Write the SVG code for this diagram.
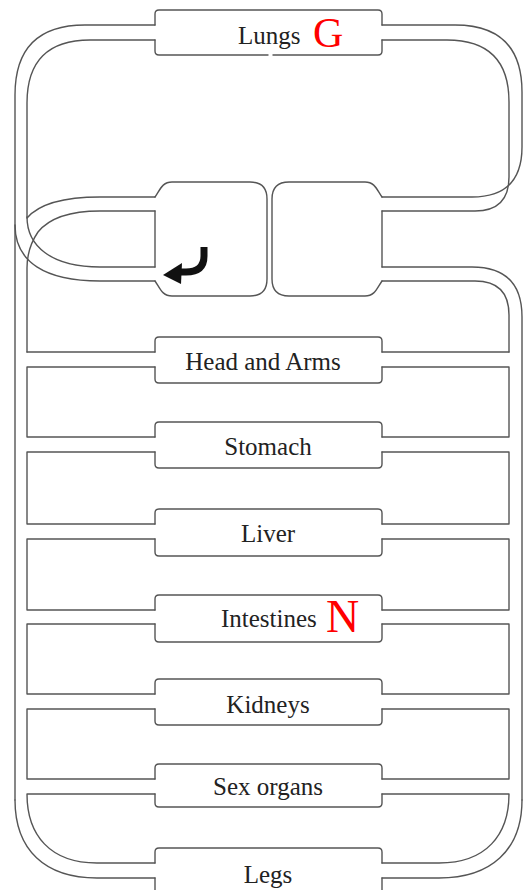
<svg xmlns="http://www.w3.org/2000/svg" width="526" height="890" viewBox="0 0 526 890">
<style>
.w{fill:none;stroke:#555;stroke-width:1.4;stroke-linecap:round;stroke-linejoin:round}
.t{font-family:"Liberation Serif","DejaVu Serif",serif;font-size:25px;fill:#222}
.r{font-family:"Liberation Serif","DejaVu Serif",serif;fill:#f00}
</style>
<rect width="526" height="890" fill="#fff"/>
<g id="connectors" class="w">
<!-- lungs to left heart (pulmonary veins) -->
<path d="M155,25 L85,25 Q15,25 15,95 L15,800"/>
<path d="M155,40 L90,40 Q27,40 27,103 L27,217"/>
<path d="M27,217 C27,245 50,267 100,267 L155,267"/>
<path d="M15,225 C15,262 45,281 100,281 L155,281"/>
<!-- aorta from left heart -->
<path d="M155,197 L100,197 Q45,197 27,218"/>
<path d="M155,211 L100,211 Q55,211 38,232 Q27,248 27,268 L27,352"/>
<!-- right heart to lungs -->
<path d="M382,25 L455,25 Q522,25 522,92 L522,147 Q522,197 472,197 L382,197"/>
<path d="M382,40 L447,40 Q509,40 509,102 L509,177 Q509,211 475,211 L382,211"/>
<!-- body to right heart -->
<path d="M382,267 L472,267 Q522,267 522,317 L522,800"/>
<path d="M382,281 L475,281 Q509,281 509,315 L509,352"/>
<!-- branches left -->
<path d="M27,352 L155,352"/>
<path d="M155,367 L27,367 L27,437 L155,437"/>
<path d="M155,452 L27,452 L27,524 L155,524"/>
<path d="M155,539 L27,539 L27,610 L155,610"/>
<path d="M155,624 L27,624 L27,694 L155,694"/>
<path d="M155,709 L27,709 L27,779 L155,779"/>
<path d="M155,794 L27,794 C27,835 50,863 97,863 L155,863"/>
<path d="M15,800 C15,850 45,878 97,878 L155,878"/>
<!-- branches right -->
<path d="M509,352 L382,352"/>
<path d="M382,367 L509,367 L509,437 L382,437"/>
<path d="M382,452 L509,452 L509,524 L382,524"/>
<path d="M382,539 L509,539 L509,610 L382,610"/>
<path d="M382,624 L509,624 L509,694 L382,694"/>
<path d="M382,709 L509,709 L509,779 L382,779"/>
<path d="M382,794 L509,794 C509,835 486,863 439,863 L382,863"/>
<path d="M522,800 C522,850 491,878 439,878 L382,878"/>
</g>
<g id="lungs">
<path class="w" d="M155,25 L155,14 Q155,10 159,10 L378,10 Q382,10 382,14 L382,25"/>
<path class="w" d="M155,40 L155,51 Q155,55 159,55 L268,55 M273,55 L378,55 Q382,55 382,51 L382,40"/>
<text class="t" x="238" y="44">Lungs</text>
<text class="r" x="313" y="47" font-size="42">G</text>
</g>
<g id="left-heart">
<path class="w" d="M155,197 C160,190 162,182 172,182 L250,182 Q267,182 267,199 L267,279 Q267,296 250,296 L172,296 C162,296 160,288 155,281"/>
<path class="w" d="M155,211 L155,267"/>
<path d="M204,247 L204,256 Q204,272 186,272 L180,272" fill="none" stroke="#111" stroke-width="7"/>
<path d="M163,275 L182,263 L181,284 Z" fill="#111"/>
</g>
<g id="right-heart">
<path class="w" d="M382,197 C377,190 375,182 365,182 L289,182 Q272,182 272,199 L272,279 Q272,296 289,296 L365,296 C375,296 377,288 382,281"/>
<path class="w" d="M382,211 L382,267"/>
</g>
<g id="head-arms">
<path class="w" d="M155,352 L155,341 Q155,337 159,337 L378,337 Q382,337 382,341 L382,352 M155,367 L155,379 Q155,383 159,383 L378,383 Q382,383 382,379 L382,367"/>
<text class="t" x="263" y="370" text-anchor="middle">Head and Arms</text>
</g>
<g id="stomach">
<path class="w" d="M155,437 L155,426 Q155,422 159,422 L378,422 Q382,422 382,426 L382,437 M155,452 L155,464 Q155,468 159,468 L378,468 Q382,468 382,464 L382,452"/>
<text class="t" x="268" y="455" text-anchor="middle">Stomach</text>
</g>
<g id="liver">
<path class="w" d="M155,524 L155,513 Q155,509 159,509 L378,509 Q382,509 382,513 L382,524 M155,539 L155,552 Q155,556 159,556 L378,556 Q382,556 382,552 L382,539"/>
<text class="t" x="268" y="542" text-anchor="middle">Liver</text>
</g>
<g id="intestines">
<path class="w" d="M155,610 L155,599 Q155,595 159,595 L378,595 Q382,595 382,599 L382,610 M155,624 L155,638 Q155,642 159,642 L378,642 Q382,642 382,638 L382,624"/>
<text class="t" x="221" y="627">Intestines</text>
<text class="r" x="326" y="632" font-size="46">N</text>
</g>
<g id="kidneys">
<path class="w" d="M155,694 L155,683 Q155,679 159,679 L378,679 Q382,679 382,683 L382,694 M155,709 L155,721 Q155,725 159,725 L378,725 Q382,725 382,721 L382,709"/>
<text class="t" x="268" y="713" text-anchor="middle">Kidneys</text>
</g>
<g id="sex-organs">
<path class="w" d="M155,779 L155,768 Q155,764 159,764 L378,764 Q382,764 382,768 L382,779 M155,794 L155,803 Q155,807 159,807 L378,807 Q382,807 382,803 L382,794"/>
<text class="t" x="268" y="795" text-anchor="middle">Sex organs</text>
</g>
<g id="legs">
<path class="w" d="M155,863 L155,852 Q155,848 159,848 L378,848 Q382,848 382,852 L382,863 M155,878 L155,892 M382,878 L382,892"/>
<text class="t" x="268" y="883" text-anchor="middle">Legs</text>
</g>
</svg>
